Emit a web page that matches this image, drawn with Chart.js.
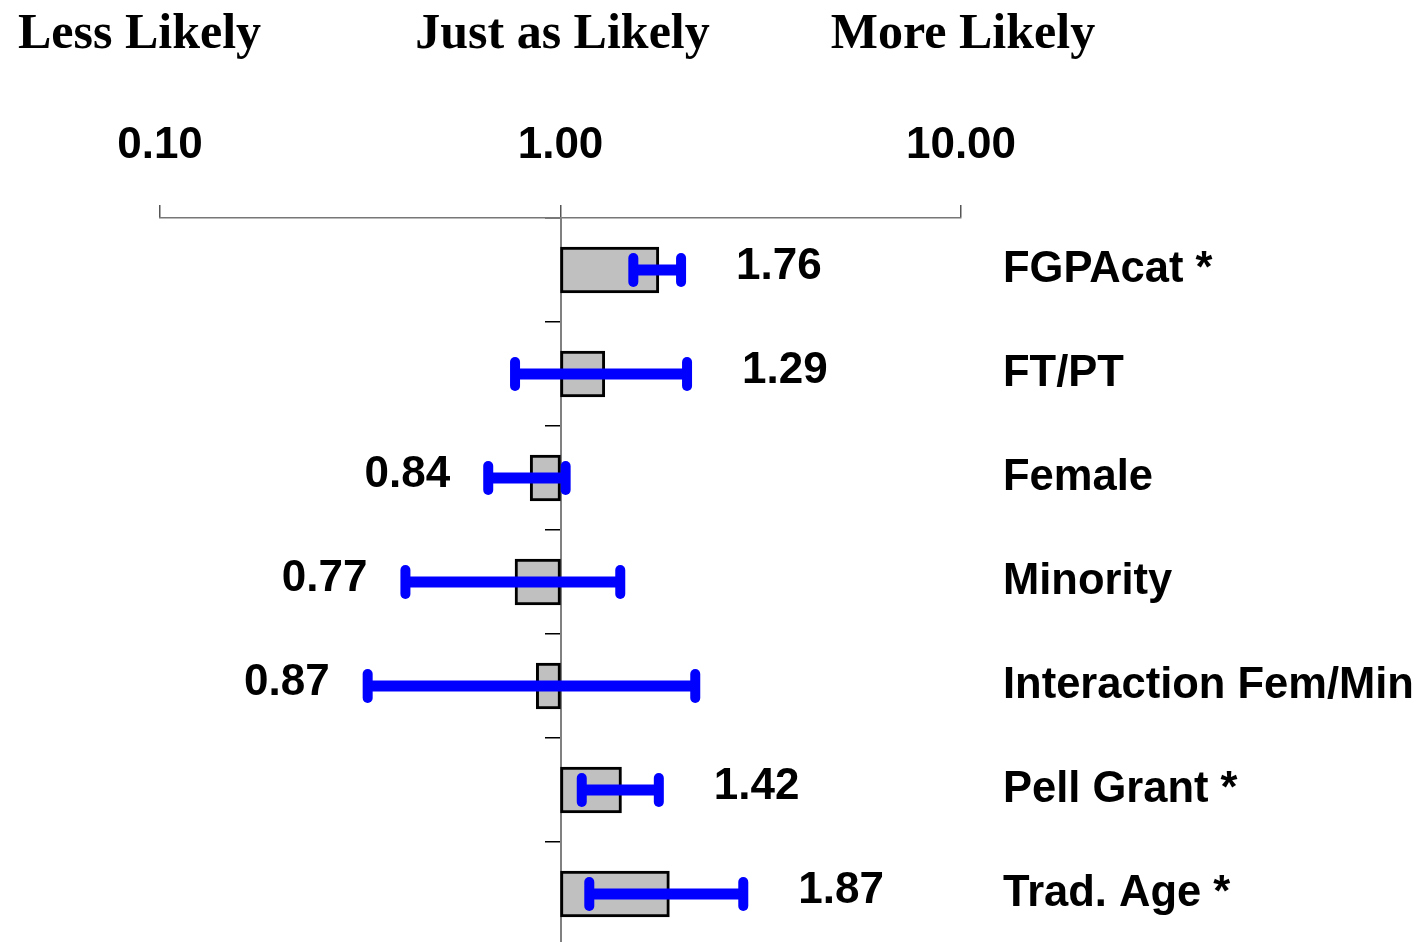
<!DOCTYPE html>
<html>
<head>
<meta charset="utf-8">
<script src="https://cdn.jsdelivr.net/npm/chart.js@4"></script>
<style>
  html, body { margin: 0; padding: 0; background: #fff; overflow: hidden; }
  #wrap { width: 1424px; height: 942px; overflow: hidden; }
</style>
</head>
<body>
<div id="wrap"><canvas id="c" width="1424" height="946" style="width:1424px;height:946px"></canvas></div>
<script>
// Odds ratios with 95% confidence intervals
const categories = ['FGPAcat *', 'FT/PT', 'Female', 'Minority', 'Interaction Fem/Min', 'Pell Grant *', 'Trad. Age *'];
const oddsRatios = [1.76, 1.29, 0.84, 0.77, 0.87, 1.42, 1.87];
const ciLower = [1.52, 0.77, 0.66, 0.41, 0.33, 1.13, 1.18];
const ciUpper = [2.00, 2.07, 1.03, 1.41, 2.17, 1.76, 2.86];
const tickValues = [0.1, 1, 10];
const tickLabels = ['0.10', '1.00', '10.00'];
const headings = ['Less Likely', 'Just as Likely', 'More Likely'];

const SANS = '"Liberation Sans", Arial, sans-serif';
const SERIF = '"Liberation Serif", "Times New Roman", serif';

// Axes must not push the plot area inward for label overhang
function noOverhang(scale) {
  scale.paddingTop = 0;
  scale.paddingBottom = 0;
  scale.paddingLeft = 0;
  scale.paddingRight = 0;
}

// Confidence-interval whiskers, value labels and headings
const overlay = {
  id: 'overlay',
  afterDatasetsDraw(chart) {
    const ctx = chart.ctx;
    const xs = chart.scales.x;
    const meta = chart.getDatasetMeta(0);
    ctx.save();
    ctx.strokeStyle = '#0000ff';
    meta.data.forEach((bar, i) => {
      const y = bar.y;
      const x0 = xs.getPixelForValue(ciLower[i]);
      const x1 = xs.getPixelForValue(ciUpper[i]);
      ctx.lineCap = 'butt';
      ctx.lineWidth = 11;
      ctx.beginPath();
      ctx.moveTo(x0, y); ctx.lineTo(x1, y);
      ctx.stroke();
      ctx.lineCap = 'round';
      ctx.lineWidth = 10;
      [x0, x1].forEach(x => {
        ctx.beginPath();
        ctx.moveTo(x, y - 12); ctx.lineTo(x, y + 12);
        ctx.stroke();
      });
    });
    ctx.fillStyle = '#000';
    ctx.font = 'bold 44px ' + SANS;
    ctx.textBaseline = 'middle';
    meta.data.forEach((bar, i) => {
      const y = bar.y - 3;
      const label = oddsRatios[i].toFixed(2);
      if (oddsRatios[i] >= 1) {
        ctx.textAlign = 'left';
        ctx.fillText(label, xs.getPixelForValue(ciUpper[i]) + 55, y);
      } else {
        ctx.textAlign = 'right';
        ctx.fillText(label, xs.getPixelForValue(ciLower[i]) - 38, y);
      }
    });
    ctx.restore();
  },
  afterDraw(chart) {
    const ctx = chart.ctx;
    const xs = chart.scales.x;
    ctx.save();
    ctx.fillStyle = '#000';
    ctx.font = 'bold 50px ' + SERIF;
    ctx.textBaseline = 'alphabetic';
    headings.forEach((h, i) => {
      if (i === 0) {
        ctx.textAlign = 'left';
        ctx.fillText(h, 18, 48);
      } else {
        ctx.textAlign = 'center';
        ctx.fillText(h, xs.getPixelForValue(tickValues[i]) + 2, 48);
      }
    });
    ctx.restore();
  }
};

new Chart(document.getElementById('c'), {
  type: 'bar',
  data: {
    labels: categories,
    datasets: [{
      data: oddsRatios.map(v => [1, v]),
      backgroundColor: '#c0c0c0',
      borderColor: '#000',
      borderWidth: 3,
      borderSkipped: false,
      barThickness: 46,
      xAxisID: 'x',
      yAxisID: 'y'
    }]
  },
  options: {
    indexAxis: 'y',
    responsive: false,
    animation: false,
    devicePixelRatio: 1,
    layout: { autoPadding: false, padding: { left: 160, top: 0, right: 0, bottom: 0 } },
    plugins: { legend: { display: false }, tooltip: { enabled: false } },
    scales: {
      x: {
        type: 'logarithmic',
        position: 'top',
        min: 0.1,
        max: 10,
        afterBuildTicks(scale) { scale.ticks = tickValues.map(v => ({ value: v })); },
        afterFit(scale) { noOverhang(scale); scale.height = 218; },
        grid: { display: true, drawOnChartArea: false, drawTicks: true, tickLength: 13, color: '#555', lineWidth: 1.5 },
        border: { display: true, color: '#777', width: 1.5 },
        ticks: {
          autoSkip: false,
          maxRotation: 0,
          padding: 33,
          color: '#000',
          font: { family: SANS, weight: 'bold', size: 44 },
          callback(value) {
            const k = tickValues.findIndex(t => Math.abs(t - value) < 1e-9);
            return k >= 0 ? tickLabels[k] : '';
          }
        }
      },
      y: {
        type: 'category',
        position: { x: 1 },
        offset: true,
        afterFit(scale) { noOverhang(scale); },
        grid: { display: true, offset: true, drawOnChartArea: false, drawTicks: true, tickLength: 15, color: '#000', lineWidth: 1.5 },
        border: { display: true, color: '#808080', width: 2 },
        ticks: { display: false }
      },
      y2: {
        type: 'category',
        position: 'right',
        offset: true,
        afterFit(scale) { noOverhang(scale); scale.width = 463; },
        grid: { display: false, drawTicks: false },
        border: { display: false },
        ticks: {
          crossAlign: 'near',
          padding: 42,
          color: '#000',
          font: { family: SANS, weight: 'bold', size: 43.5 }
        }
      }
    }
  },
  plugins: [overlay]
});
</script>
</body>
</html>
